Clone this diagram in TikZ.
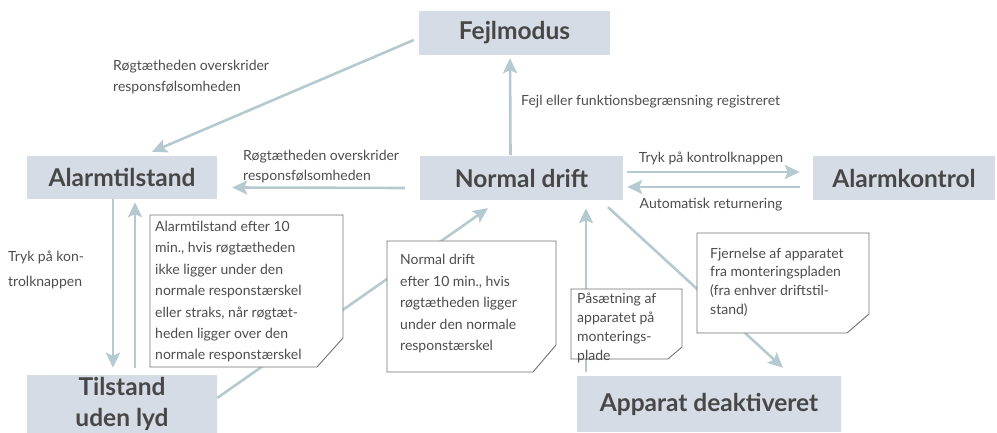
\documentclass[tikz,border=0pt]{standalone}
\usepackage{fontspec}
\setmainfont{Lato}
\usetikzlibrary{arrows.meta,calc}
\definecolor{boxfill}{HTML}{D5DCE6}
\definecolor{arrc}{HTML}{B5CAD0}
\definecolor{txt}{HTML}{4D4D4D}
\definecolor{ttl}{HTML}{474747}
\definecolor{noteline}{HTML}{707070}
\tikzset{
  state/.style={rectangle, fill=boxfill, inner sep=0pt, text=ttl,
    font=\fontsize{24.5}{31}\selectfont\bfseries, align=center},
  arr/.style={draw=arrc, line width=2.6pt,
    -{Stealth[length=15pt,width=14pt,inset=3pt]}},
  lbl/.style={inner sep=0pt, text=txt, font=\fontsize{14}{21}\selectfont, align=left},
  notebox/.style={fill=white, draw=noteline, line width=0.9pt},
}
\begin{document}
\begin{tikzpicture}[x=1pt,y=-1pt]
\useasboundingbox (0,0) rectangle (997,433);
% states
\node[state, minimum width=191pt, minimum height=44pt] (fejl) at (514.5,33) {Fejlmodus};
\node[state, minimum width=190pt, minimum height=43pt] (alarm) at (122,177.5) {Alarmtilstand};
\node[state, minimum width=203pt, minimum height=44pt] (normal) at (521.5,178) {Normal drift};
\node[state, minimum width=182pt, minimum height=44pt] (kontrol) at (904,178) {Alarmkontrol};
\node[state, minimum width=190pt, minimum height=58pt] (tilstand) at (122,404) {Tilstand\\uden lyd};
\node[state, minimum width=264pt, minimum height=56pt] (apparat) at (709,404) {Apparat deaktiveret};

% arrows
\draw[arr] ($(fejl.west)+(-5,7)$) -- ($(alarm.north)+(30,-4)$);
\draw[arr] ($(normal.west)+(-15,10)$) -- ($(alarm.east)+(15,10)$);
\draw[arr] ($(normal.north)+(-11,-1)$) -- ($(fejl.south)+(-4.5,3)$);
\draw[arr] ($(normal.east)+(4,-6)$) -- ($(kontrol.west)+(-13,-6)$);
\draw[arr] ($(kontrol.west)+(-13,9)$) -- ($(normal.east)+(4,9)$);
\draw[arr] ($(alarm.south)+(-9,0)$) -- ($(tilstand.north)+(-9,-7)$);
\draw[arr] ($(tilstand.north)+(13,-7)$) -- ($(alarm.south)+(13,3)$);
\draw[arr] ($(tilstand.east)+(0,-6)$) -- ($(normal.south)+(-33.5,8)$);
\draw[arr] ($(apparat.north)+(-123,-4)$) -- ($(normal.south)+(64.5,8)$);
\draw[arr] ($(normal.south)+(86.5,7)$) -- ($(apparat.north)+(74,-8)$);

% notes
\draw[notebox] (150,215) -- (343,215) -- (343,338) -- (317,367) -- (150,367) -- cycle;
\node[lbl, anchor=north west, font=\fontsize{14}{21.4}\selectfont] (n1) at (155,221)
  {Alarmtilstand efter 10\\min., hvis røgtætheden\\ikke ligger under den\\normale responstærskel\\eller straks, når røgtæt-\\heden ligger over den\\normale responstærskel};
\draw[notebox] (387,241) -- (556,241) -- (556,345) -- (533,372) -- (387,372) -- cycle;
\node[lbl, anchor=north west, font=\fontsize{14}{21.5}\selectfont] (n2) at (400,254)
  {Normal drift\\efter 10 min., hvis\\røgtætheden ligger\\under den normale\\responstærskel};
\draw[notebox] (571,289) -- (682,289) -- (682,347) -- (668,359) -- (571,359) -- cycle;
\node[lbl, anchor=north west, font=\fontsize{14}{19}\selectfont] (n3) at (577,293)
  {Påsætning af\\apparatet på\\monterings-\\plade};
\draw[notebox] (697,233) -- (869,233) -- (869,314) -- (847,333) -- (697,333) -- cycle;
\node[lbl, anchor=north west, font=\fontsize{14}{18.8}\selectfont] (n4) at (710,247.5)
  {Fjernelse af apparatet\\fra monteringspladen\\(fra enhver driftstil-\\stand)};

% labels
\node[lbl, anchor=north west] (l1) at (113,60) {Røgtætheden overskrider\\responsfølsomheden};
\node[lbl, anchor=north west, font=\fontsize{14}{20}\selectfont] (l2) at (243,150) {Røgtætheden overskrider\\responsfølsomheden};
\node[lbl, anchor=north west] (l3) at (521,94.5) {Fejl eller funktionsbegrænsning registreret};
\node[lbl, anchor=north] (l4) at (711,151.5) {Tryk på kontrolknappen};
\node[lbl, anchor=north] (l5) at (711,198) {Automatisk returnering};
\node[lbl, anchor=north west, font=\fontsize{14}{25}\selectfont] (l6) at (8,251) {Tryk på kon-\\trolknappen};
\end{tikzpicture}
\end{document}
